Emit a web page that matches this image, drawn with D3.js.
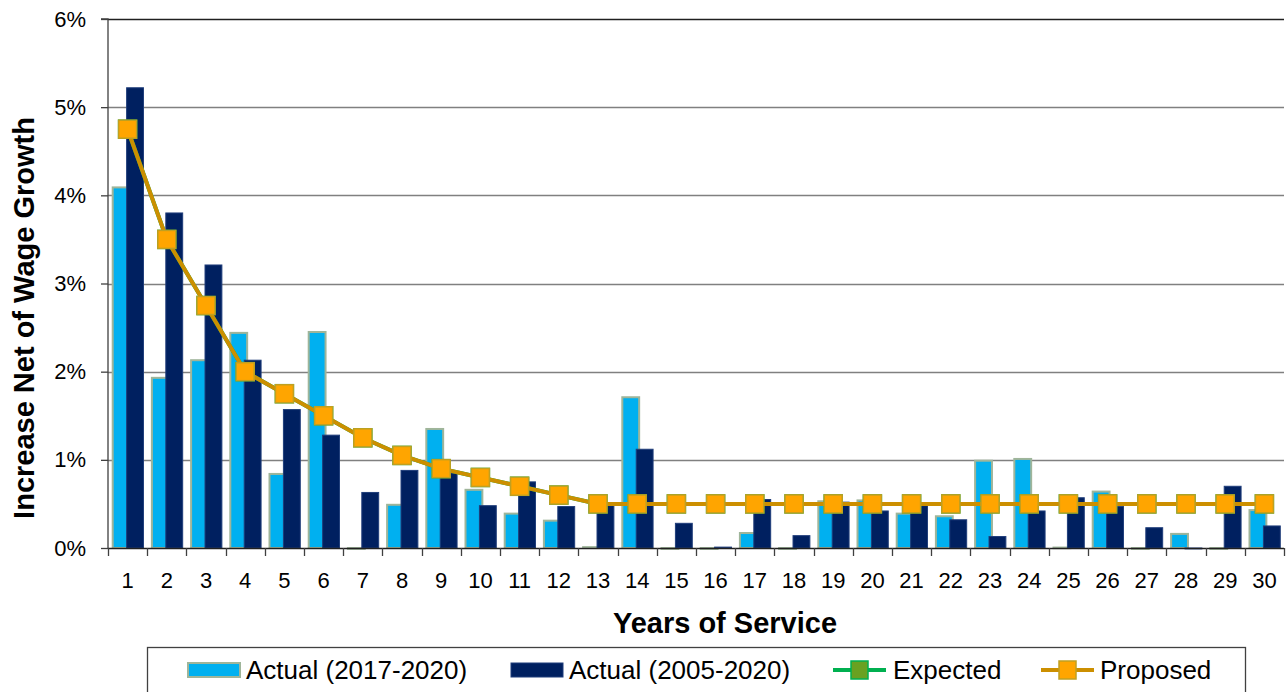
<!DOCTYPE html>
<html>
<head>
<meta charset="utf-8">
<script src="https://cdn.jsdelivr.net/npm/d3@7"></script>
<style>
  html, body { margin: 0; padding: 0; background: #ffffff; }
  svg { display: block; font-family: "Liberation Sans", Arial, sans-serif; }
</style>
</head>
<body>
<svg id="chart" width="1286" height="692"></svg>
<script>
// Years of service 1..30
const years = d3.range(1, 31).map(String);

// Actual rates of increase, net of wage growth (in %)
const actual2017 = [4.09, 1.93, 2.13, 2.44, 0.84, 2.45, -0.01, 0.49, 1.35, 0.66,
                    0.39, 0.31, 0.01, 1.71, -0.01, -0.01, 0.17, -0.01, 0.53, 0.54,
                    0.39, 0.36, 0.99, 1.01, 0.005, 0.64, -0.01, 0.16, -0.01, 0.43];
const actual2005 = [5.22, 3.80, 3.21, 2.13, 1.57, 1.28, 0.63, 0.88, 0.85, 0.48,
                    0.75, 0.47, 0.48, 1.12, 0.28, 0.01, 0.55, 0.14, 0.52, 0.42,
                    0.48, 0.32, 0.13, 0.42, 0.57, 0.47, 0.23, -0.01, 0.70, 0.25];
// Assumption curves (in %)
const expected = [4.75, 3.50, 2.75, 2.00, 1.75, 1.50, 1.25, 1.05, 0.90, 0.80,
                  0.70, 0.60, 0.50, 0.50, 0.50, 0.50, 0.50, 0.50, 0.50, 0.50,
                  0.50, 0.50, 0.50, 0.50, 0.50, 0.50, 0.50, 0.50, 0.50, 0.50];
const proposed = [4.75, 3.50, 2.75, 2.00, 1.75, 1.50, 1.25, 1.05, 0.90, 0.80,
                  0.70, 0.60, 0.50, 0.50, 0.50, 0.50, 0.50, 0.50, 0.50, 0.50,
                  0.50, 0.50, 0.50, 0.50, 0.50, 0.50, 0.50, 0.50, 0.50, 0.50];
const yTicks = [0, 1, 2, 3, 4, 5, 6];

const seriesNames = ["Actual (2017-2020)", "Actual (2005-2020)", "Expected", "Proposed"];

const C = {
  light: "#00b0f0", lightEdge: "#9fb59a",
  dark: "#002060", darkEdge: "#1f3d7a",
  expLine: "#00b050", expFill: "#6aa121",
  propLine: "#cc8f00", propFill: "#ffa500", propEdge: "#c0a020",
  grid: "#808080", axis: "#404040"
};

const svg = d3.select("#chart");
const plot = { left: 108, right: 1284, top: 19, bottom: 548 };

const x = d3.scaleBand().domain(years).range([plot.left, plot.right]).padding(0);
const y = d3.scaleLinear().domain([0, 6]).range([plot.bottom, plot.top]);
const bw = x.bandwidth();

// horizontal gridlines
svg.append("g").selectAll("line").data(yTicks.filter(d => d > 0)).join("line")
  .attr("x1", plot.left).attr("x2", plot.right)
  .attr("y1", d => Math.round(y(d)) + 0.5).attr("y2", d => Math.round(y(d)) + 0.5)
  .attr("stroke", d => d === 6 ? "#202020" : C.grid).attr("stroke-width", 1.3);

// bars
const barW = bw * 0.43;
const g = svg.append("g");
g.selectAll("rect.a17").data(actual2017).join("rect").attr("class", "a17")
  .attr("x", (d, i) => x(years[i]) + bw * 0.12)
  .attr("width", barW)
  .attr("y", d => y(Math.max(d, 0)))
  .attr("height", d => Math.max(Math.abs(y(d) - y(0)), 0.6))
  .attr("fill", C.light).attr("stroke", C.lightEdge).attr("stroke-width", 2);
g.selectAll("rect.a05").data(actual2005).join("rect").attr("class", "a05")
  .attr("x", (d, i) => x(years[i]) + bw * 0.475)
  .attr("width", barW)
  .attr("y", d => y(Math.max(d, 0)))
  .attr("height", d => Math.max(Math.abs(y(d) - y(0)), 0.6))
  .attr("fill", C.dark).attr("stroke", C.darkEdge).attr("stroke-width", 1);

// y axis
const yAxis = d3.axisLeft(y).tickValues(yTicks).tickFormat(d => d + "%").tickSize(7).tickPadding(15);
const ya = svg.append("g").attr("transform", `translate(${plot.left},0)`).call(yAxis);
ya.select(".domain").attr("stroke", C.axis).attr("stroke-width", 1.3).attr("d", `M-7,${plot.top}H0V${plot.bottom}`);
ya.selectAll(".tick line").attr("stroke", C.axis).attr("stroke-width", 1.3);
ya.selectAll(".tick text").attr("font-size", 22).attr("fill", "#000")
  .attr("font-family", "Liberation Sans, Arial, sans-serif");

// x axis with ticks between categories
const xa = svg.append("g").attr("transform", `translate(0,${plot.bottom})`);
xa.append("line").attr("x1", plot.left).attr("x2", plot.right).attr("y1", 0.5).attr("y2", 0.5)
  .attr("stroke", "#202020").attr("stroke-width", 1.3);
xa.selectAll("line.tk").data(years.concat(["end"])).join("line").attr("class", "tk")
  .attr("x1", (d, i) => Math.round(plot.left + i * bw) + 0.5)
  .attr("x2", (d, i) => Math.round(plot.left + i * bw) + 0.5)
  .attr("y1", 0).attr("y2", 8).attr("stroke", C.axis).attr("stroke-width", 1.3);
xa.selectAll("text").data(years).join("text")
  .attr("x", d => x(d) + bw / 2).attr("y", 40)
  .attr("text-anchor", "middle").attr("font-size", 22).attr("fill", "#000")
  .text(d => d);

// lines + markers
function drawLine(data, stroke, fill, edge) {
  const line = d3.line().x((d, i) => x(years[i]) + bw / 2).y(d => y(d));
  svg.append("path").datum(data).attr("d", line)
    .attr("fill", "none").attr("stroke", stroke).attr("stroke-width", 4);
  svg.append("g").selectAll("rect").data(data).join("rect")
    .attr("x", (d, i) => x(years[i]) + bw / 2 - 9)
    .attr("y", d => y(d) - 9)
    .attr("width", 18).attr("height", 18)
    .attr("fill", fill).attr("stroke", edge).attr("stroke-width", 1.5);
}
drawLine(expected, C.expLine, C.expFill, C.expLine);
drawLine(proposed, C.propLine, C.propFill, C.propEdge);

// axis titles
svg.append("text").attr("x", 725).attr("y", 633).attr("text-anchor", "middle")
  .attr("font-size", 29).attr("font-weight", "bold").text("Years of Service");
svg.append("text").attr("transform", "translate(34,318) rotate(-90)").attr("text-anchor", "middle")
  .attr("font-size", 29).attr("font-weight", "bold").text("Increase Net of Wage Growth");

// legend
const lg = svg.append("g");
lg.append("rect").attr("x", 147.5).attr("y", 647.5).attr("width", 1098).attr("height", 60)
  .attr("fill", "#fff").attr("stroke", "#404040").attr("stroke-width", 1.3);
const ly = 670;
const items = [
  { x: 188, tx: 246, type: "bar", fill: C.light, edge: C.lightEdge, ew: 2 },
  { x: 511, tx: 569, type: "bar", fill: C.dark, edge: C.darkEdge, ew: 1 },
  { x: 833, tx: 893, type: "line", stroke: C.expLine, fill: C.expFill, edge: C.expLine },
  { x: 1041, tx: 1100, type: "line", stroke: C.propLine, fill: C.propFill, edge: C.propEdge }
];
items.forEach((it, i) => {
  if (it.type === "bar") {
    lg.append("rect").attr("x", it.x).attr("y", ly - 7).attr("width", 52).attr("height", 14)
      .attr("fill", it.fill).attr("stroke", it.edge).attr("stroke-width", it.ew);
  } else {
    lg.append("line").attr("x1", it.x).attr("x2", it.x + 53).attr("y1", ly).attr("y2", ly)
      .attr("stroke", it.stroke).attr("stroke-width", 4);
    lg.append("rect").attr("x", it.x + 18).attr("y", ly - 9).attr("width", 17).attr("height", 18)
      .attr("fill", it.fill).attr("stroke", it.edge).attr("stroke-width", 1.5);
  }
  lg.append("text").attr("x", it.tx).attr("y", ly + 9).attr("font-size", 26).attr("fill", "#000")
    .text(seriesNames[i]);
});
</script>
</body>
</html>
